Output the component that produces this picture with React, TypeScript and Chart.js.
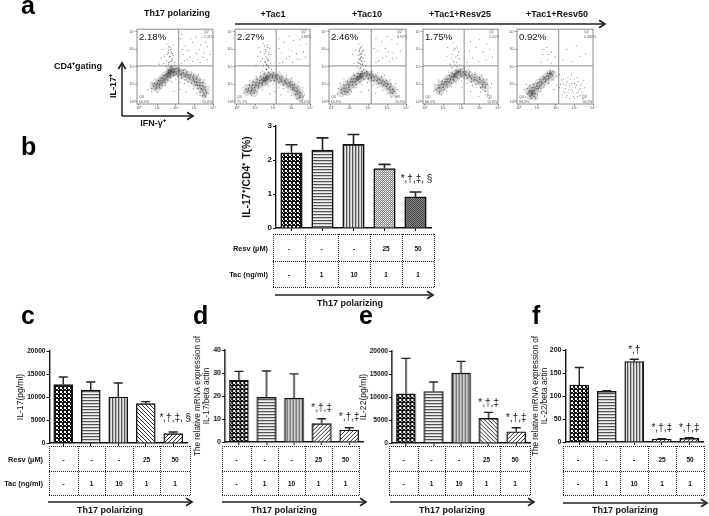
import React, { useEffect, useRef } from "react";
import { Chart, registerables } from "chart.js";
Chart.register(...registerables);

const FONT = '"Liberation Sans", Arial, sans-serif';

// ---------- data: bar panels ----------
const categories = ["Th17", "+Tac1", "+Tac10", "+Tac1+Resv25", "+Tac1+Resv50"];
const resvRow = ["-", "-", "-", "25", "50"];
const tacRow = ["-", "1", "10", "1", "1"];

const bValues = [2.21, 2.29, 2.46, 1.75, 0.92];
const bTops = [2.45, 2.65, 2.75, 1.87, 1.06];
const cValues = [12700, 11500, 10000, 8550, 2050];
const cTops = [14350, 13250, 13050, 9000, 2400];
const dValues = [26.8, 19.4, 19.1, 8, 5.2];
const dTops = [30.7, 30.9, 29.6, 10.1, 6.2];
const eValues = [10700, 11200, 15200, 5350, 2450];
const eTops = [18400, 13250, 17750, 6650, 3300];
const fValues = [124, 110, 175, 5.8, 8];
const fTops = [162, 111.5, 180, 7.2, 9.4];

const bSig = ["", "", "", "", "*,†,‡, §"];
const cSig = ["", "", "", "", "*,†,‡, §"];
const dSig = ["", "", "", "*,†,‡", "*,†,‡"];
const eSig = ["", "", "", "*,†,‡", "*,†,‡"];
const fSig = ["", "", "*,†", "*,†,‡", "*,†,‡"];
const bSigAt = [0, 0, 0, 0, 1.43];
const cSigAt = [0, 0, 0, 0, 5300];
const dSigAt = [0, 0, 0, 14.5, 10.9];
const eSigAt = [0, 0, 0, 8750, 5300];
const fSigAt = [0, 0, 200, 29, 29];

// ---------- data: flow cytometry panels (log10 decades) ----------
const flowTitles = ["2.18%", "2.27%", "2.46%", "1.75%", "0.92%"];
const flowQ2 = ["Q2\n1.11%", "Q2\n1.84%", "Q2\n0.91%", "Q2\n1.31%", "Q2\n0.360%"];
const flowQ3 = ["Q3\n15.0%", "Q3\n15.0%", "Q3\n15.5%", "Q3\n15.6%", "Q3\n14.2%"];
const flowQ4 = ["Q4\n60.9%", "Q4\n71.7%", "Q4\n61.9%", "Q4\n66.1%", "Q4\n84.3%"];

const f1Dense = [[0.8,0.9],[0.95,0.78],[1.0,1.05],[1.1,0.95],[1.15,1.2],[1.25,1.1],[1.3,1.35],[1.4,1.25],[1.45,1.5],[1.55,1.4],[1.6,1.65],[1.7,1.55],[1.75,1.75],[1.85,1.65],[1.7,1.85],[1.9,1.85],[2.0,1.7],[2.15,1.75],[2.25,1.55],[2.4,1.65],[2.5,1.45],[2.65,1.55],[2.75,1.3],[2.9,1.4],[3.0,1.15],[3.1,1.3],[3.15,0.95],[3.3,1.1],[3.35,0.75],[3.45,0.9],[3.5,0.5],[3.6,0.65]];
const f1Core = [[1.6,1.6],[1.7,1.68],[1.78,1.75],[1.55,1.52],[1.65,1.72]];
const f1Band = [[0.7,0.75],[0.85,1.05],[0.9,0.7],[1.05,1.2],[1.1,0.8],[1.2,1.35],[1.25,0.95],[1.35,1.5],[1.4,1.1],[1.5,1.6],[1.55,1.25],[1.6,1.8],[1.7,1.4],[1.8,1.9],[1.85,1.5],[1.95,1.55],[2.0,1.9],[2.1,1.45],[2.2,1.85],[2.3,1.35],[2.4,1.8],[2.5,1.25],[2.6,1.7],[2.65,1.15],[2.8,1.55],[2.85,1.05],[2.95,1.5],[3.05,0.95],[3.15,1.4],[3.2,0.75],[3.3,1.25],[3.3,0.55],[3.45,1.1],[3.45,0.35],[3.55,0.85],[3.65,0.5],[0.75,1.0],[0.95,0.95],[1.15,1.05],[1.3,1.2],[1.45,1.35],[1.65,1.45],[1.9,1.7],[2.05,1.6],[2.3,1.6],[2.55,1.55],[2.7,1.4],[2.95,1.25],[3.1,1.1],[3.25,0.95],[3.4,0.7],[3.55,0.4],[1.72,2.0],[1.62,2.25],[1.78,2.35],[1.68,2.6],[1.58,2.8],[1.72,3.0],[1.62,3.15],[1.8,2.75]];
const f1Speck = [[1.5,3.3],[1.7,3.1],[1.85,3.25],[1.6,2.95],[1.75,2.85],[1.55,2.7],[1.85,2.65],[1.65,2.55],[1.8,2.45],[1.5,2.35],[1.7,2.3],[1.9,2.25],[1.6,2.15],[1.75,2.1],[1.45,2.05],[1.95,2.1],[2.3,2.2],[2.6,2.4],[2.9,2.3],[3.3,2.25],[3.7,2.4],[2.4,2.7],[2.75,2.9],[3.1,2.75],[3.5,2.8],[2.5,3.2],[2.9,3.4],[3.35,3.25],[3.7,3.15],[2.25,3.6],[3.1,3.7],[1.2,2.5],[1.3,3.0],[1.1,2.15],[0.5,0.7],[0.65,1.1],[0.85,1.3],[0.7,0.6],[1.0,0.55],[1.2,0.75],[1.45,0.95],[1.75,1.15],[2.0,1.3],[2.2,1.1],[2.45,1.05],[2.7,0.9],[2.95,0.75],[3.1,0.5],[3.3,0.35],[3.6,0.3],[3.75,0.45],[3.8,0.85],[3.55,1.25],[3.2,1.55],[2.85,1.7],[2.5,1.85],[2.1,1.95],[2.55,0.55],[2.2,0.7],[1.9,0.6],[2.45,2.35],[2.75,2.55],[3.15,2.4],[3.45,2.55],[3.85,2.7],[2.6,2.95],[3.25,3.0],[3.6,3.4],[2.8,3.6],[2.35,3.0],[1.4,2.6],[1.35,2.2],[2.3,3.85],[3.4,3.7]];

const f2Dense = [[0.63,0.77],[0.8,0.62],[0.85,0.95],[0.98,0.8],[1.05,1.1],[1.18,0.92],[1.25,1.22],[1.38,1.05],[1.45,1.38],[1.55,1.18],[1.63,1.5],[1.75,1.3],[1.85,1.55],[1.95,1.4],[2.1,1.5],[2.2,1.3],[2.35,1.38],[2.45,1.15],[2.6,1.2],[2.73,1.02],[2.85,1.1],[2.95,0.85],[3.05,0.95],[3.15,0.65],[3.25,0.78],[3.3,0.45],[3.42,0.55],[3.45,0.25],[0.55,0.55],[0.95,0.5]];
const f2Core = [[1.5,1.26],[1.6,1.34],[1.68,1.42],[1.45,1.18],[1.62,1.25]];
const f2Band = [[0.5,0.7],[0.7,0.95],[0.75,0.5],[0.9,1.15],[1.0,0.65],[1.1,1.3],[1.2,0.8],[1.3,1.45],[1.4,0.95],[1.5,1.6],[1.6,1.05],[1.75,1.65],[1.85,1.2],[2.0,1.65],[2.05,1.2],[2.2,1.55],[2.3,1.1],[2.45,1.45],[2.55,0.95],[2.7,1.3],[2.8,0.85],[2.95,1.15],[3.05,0.7],[3.15,1.0],[3.2,0.4],[3.35,0.85],[3.35,0.2],[3.5,0.5],[0.65,0.65],[0.85,0.7],[1.05,0.95],[1.25,1.05],[1.35,1.3],[1.55,1.4],[1.75,1.45],[1.95,1.5],[2.15,1.42],[2.4,1.25],[2.65,1.1],[2.9,1.0],[3.1,0.8],[3.3,0.6],[1.62,1.85],[1.72,2.05],[1.55,2.3],[1.65,2.5],[1.75,2.7],[1.58,2.9],[1.68,3.1],[1.5,3.2],[1.62,2.15],[1.7,2.35]];
const f2Speck = [[1.45,3.35],[1.65,3.25],[1.8,3.05],[1.55,3.0],[1.75,2.85],[1.5,2.75],[1.85,2.7],[1.6,2.6],[1.4,2.45],[1.75,2.4],[1.55,2.25],[1.85,2.2],[1.65,2.1],[1.45,2.05],[1.75,1.95],[1.6,1.85],[1.9,1.85],[1.4,1.75],[2.35,2.2],[2.7,2.45],[3.05,2.25],[3.45,2.4],[2.45,2.8],[2.85,3.0],[3.25,2.75],[3.65,2.85],[2.6,3.4],[3.1,3.5],[3.5,3.2],[1.15,2.6],[1.2,3.1],[1.05,2.1],[0.4,0.5],[0.5,0.95],[0.7,1.2],[0.35,0.8],[0.8,0.35],[1.1,0.55],[1.4,0.7],[1.7,0.95],[2.0,1.0],[2.3,0.8],[2.55,0.75],[2.8,0.55],[3.0,0.35],[3.25,0.15],[3.6,0.1],[3.7,0.4],[3.6,0.8],[3.35,1.1],[3.0,1.35],[2.7,1.5],[2.35,1.7],[1.3,1.65],[1.05,1.45],[2.05,0.6],[2.4,0.4],[1.8,0.45],[2.5,2.25],[2.9,2.6],[3.3,2.45],[3.75,2.55],[2.3,3.05],[3.0,2.9],[3.45,3.55],[2.85,3.75],[2.3,3.6],[1.3,2.3],[1.3,2.85],[3.8,3.3]];

const f3Dense = [[0.65,0.78],[0.75,0.6],[0.85,1.0],[0.95,0.82],[1.05,1.15],[1.15,0.98],[1.2,1.32],[1.3,1.12],[1.4,1.42],[1.5,1.28],[1.55,1.58],[1.68,1.42],[1.8,1.65],[1.9,1.5],[2.05,1.55],[2.15,1.35],[2.3,1.42],[2.45,1.2],[2.6,1.28],[2.7,1.05],[2.85,1.12],[2.95,0.88],[3.05,0.98],[3.15,0.68],[3.3,0.72],[3.3,0.48],[0.55,0.5],[0.9,0.55]];
const f3Core = [[1.45,1.38],[1.55,1.47],[1.65,1.55],[1.4,1.28],[1.58,1.38]];
const f3Band = [[0.55,0.7],[0.7,0.95],[0.8,0.55],[0.9,1.15],[1.0,0.7],[1.1,1.3],[1.2,0.85],[1.25,1.5],[1.35,1.0],[1.45,1.62],[1.55,1.15],[1.65,1.72],[1.75,1.3],[1.9,1.72],[2.0,1.3],[2.15,1.62],[2.25,1.2],[2.4,1.5],[2.55,1.05],[2.7,1.4],[2.8,0.95],[2.95,1.2],[3.05,0.75],[3.2,1.0],[3.2,0.5],[3.35,0.6],[0.75,0.75],[0.95,0.95],[1.15,1.15],[1.35,1.25],[1.6,1.6],[1.95,1.6],[2.2,1.48],[2.5,1.3],[2.75,1.2],[3.0,1.05],[3.15,0.85],[1.55,1.9],[1.68,2.15],[1.55,2.4],[1.65,2.55],[1.55,2.7],[1.68,2.9],[1.6,3.1],[1.5,2.2],[1.62,2.75],[1.58,2.5],[1.66,2.3],[1.52,2.95]];
const f3Speck = [[1.5,3.3],[1.65,3.2],[1.55,3.05],[1.75,2.95],[1.5,2.85],[1.65,2.8],[1.8,2.7],[1.45,2.65],[1.6,2.6],[1.72,2.5],[1.5,2.45],[1.62,2.35],[1.8,2.3],[1.45,2.25],[1.58,2.15],[1.7,2.1],[1.85,2.05],[1.4,2.0],[1.6,1.95],[1.75,1.85],[2.4,2.25],[2.75,2.5],[3.1,2.3],[3.5,2.5],[2.5,2.9],[2.9,3.05],[3.3,2.8],[3.7,2.9],[2.7,3.45],[3.25,3.55],[1.15,2.7],[1.2,2.2],[0.4,0.75],[0.5,1.05],[0.7,1.3],[0.35,0.45],[1.1,0.6],[1.35,0.8],[1.65,1.0],[1.95,1.1],[2.25,0.95],[2.5,0.8],[2.75,0.65],[3.0,0.45],[3.2,0.25],[3.5,0.3],[3.55,0.7],[3.45,1.05],[3.15,1.25],[2.85,1.5],[2.5,1.65],[2.2,1.75],[1.2,1.6],[2.0,0.65],[2.35,0.5],[1.6,0.55],[2.55,2.35],[2.95,2.6],[3.3,2.45],[2.3,3.05],[3.05,2.85],[3.55,3.3],[2.4,3.6],[3.0,3.75],[1.3,2.95]];

const f4Dense = [[0.72,0.78],[0.82,0.6],[0.9,1.0],[1.0,0.82],[1.1,1.12],[1.2,0.98],[1.25,1.3],[1.35,1.12],[1.45,1.42],[1.55,1.28],[1.6,1.58],[1.72,1.42],[1.85,1.72],[1.95,1.55],[2.1,1.7],[2.25,1.5],[2.4,1.55],[2.55,1.32],[2.7,1.4],[2.85,1.2],[3.0,1.28],[3.15,1.0],[3.25,1.1],[3.3,0.8]];
const f4Core = [[1.65,1.56],[1.74,1.64],[1.82,1.72],[1.6,1.46]];
const f4Band = [[0.6,0.7],[0.75,0.95],[0.8,0.5],[0.95,1.15],[1.05,0.7],[1.15,1.3],[1.25,0.85],[1.35,1.5],[1.45,1.05],[1.5,1.65],[1.6,1.2],[1.7,1.8],[1.8,1.35],[1.95,1.85],[2.0,1.45],[2.2,1.75],[2.3,1.35],[2.45,1.7],[2.55,1.15],[2.75,1.55],[2.8,1.0],[3.0,1.4],[3.05,0.8],[3.2,1.25],[3.3,0.6],[3.4,1.0],[3.45,0.4],[0.8,0.8],[1.0,1.0],[1.2,1.15],[1.4,1.3],[1.55,1.45],[1.95,1.7],[2.2,1.6],[2.45,1.45],[2.7,1.25],[2.95,1.1],[3.15,0.85]];
const f4Speck = [[1.55,3.4],[1.75,3.15],[1.6,2.95],[1.85,2.85],[1.5,2.7],[1.7,2.55],[1.9,2.45],[1.55,2.35],[1.75,2.25],[1.4,2.15],[1.65,2.1],[1.9,2.1],[2.3,2.25],[2.6,2.5],[2.95,2.3],[3.35,2.4],[3.7,2.55],[2.45,2.9],[2.8,3.1],[3.2,2.85],[3.55,3.0],[2.5,3.45],[3.0,3.55],[3.4,3.3],[1.2,2.6],[1.25,3.1],[0.5,0.6],[0.55,1.0],[0.75,1.25],[0.9,0.4],[1.2,0.6],[1.45,0.85],[1.7,1.1],[2.0,1.2],[2.3,1.05],[2.6,0.95],[2.85,0.8],[3.05,0.55],[3.3,0.4],[3.55,0.2],[3.45,0.55],[3.6,0.8],[3.65,1.05],[3.4,1.3],[3.1,1.55],[2.75,1.7],[2.4,1.85],[2.15,1.95],[1.3,1.7],[2.05,0.8],[2.5,0.6],[2.95,0.3],[1.65,3.05],[1.45,2.5],[1.8,2.65],[1.6,2.25],[1.75,2.0],[1.5,1.95]];

const f5Dense = [[0.55,0.6],[0.7,0.45],[0.7,0.8],[0.85,0.65],[0.6,0.32],[0.85,0.3],[0.95,0.9],[1.05,0.75],[1.1,1.1],[1.2,0.95],[1.3,1.28],[1.42,1.15],[1.5,1.45],[1.6,1.32],[1.68,1.62],[1.8,1.5]];
const f5Core = [[0.65,0.6],[0.78,0.52],[0.7,0.42],[1.7,1.62]];
const f5Band = [[0.45,0.75],[0.5,0.45],[0.6,0.9],[0.65,0.2],[0.75,0.65],[0.8,1.0],[0.9,0.45],[0.95,0.75],[1.0,1.05],[1.1,0.85],[1.15,1.25],[1.25,1.05],[1.35,1.4],[1.45,1.25],[1.55,1.6],[1.6,1.45],[1.7,1.75],[1.78,1.6],[1.85,1.75],[1.2,1.15],[1.4,1.35],[0.55,0.55],[0.8,0.8],[0.9,0.2]];
const f5Speck = [[1.5,3.1],[1.75,2.85],[1.3,2.7],[1.95,2.55],[1.55,2.4],[1.2,2.25],[1.75,2.2],[2.4,2.4],[2.9,2.3],[3.3,2.6],[2.6,3.0],[3.1,3.2],[3.6,2.75],[0.3,0.7],[0.4,1.0],[0.35,0.25],[0.45,0.5],[1.0,0.4],[1.15,0.6],[1.35,0.85],[1.6,1.05],[1.85,1.25],[1.95,1.7],[2.05,1.45],[2.2,1.55],[2.3,1.25],[2.4,1.0],[2.5,0.75],[2.6,1.15],[2.65,0.5],[2.75,0.9],[2.8,1.3],[2.9,0.65],[2.95,0.3],[3.0,1.05],[3.05,0.8],[3.1,0.5],[3.2,1.15],[3.25,0.7],[3.3,0.35],[3.35,0.95],[3.4,0.55],[3.45,0.2],[3.5,1.2],[3.55,0.8],[2.2,0.8],[2.35,0.4],[2.55,0.25],[2.85,1.55],[3.15,1.4],[1.9,0.7],[2.05,0.95],[2.25,1.0],[2.45,0.55],[2.55,0.95],[2.7,0.7],[2.85,1.05],[2.95,0.5],[3.1,0.95],[3.2,0.55],[3.35,0.75],[3.45,0.4],[2.6,0.35],[2.75,0.2],[3.0,0.2],[3.15,0.3],[2.4,1.3],[2.65,1.4],[3.0,1.3],[1.6,2.7],[1.35,3.0]];

const flowSets = [
  { dense: f1Dense, core: f1Core, band: f1Band, speck: f1Speck },
  { dense: f2Dense, core: f2Core, band: f2Band, speck: f2Speck },
  { dense: f3Dense, core: f3Core, band: f3Band, speck: f3Speck },
  { dense: f4Dense, core: f4Core, band: f4Band, speck: f4Speck },
  { dense: f5Dense, core: f5Core, band: f5Band, speck: f5Speck },
];
const gateX = 2.15;
const gateY = 2.05;
const logTicks = ["10⁰", "10¹", "10²", "10³", "10⁴"];

// ---------- patterns ----------
function tile(w: number, h: number, draw: (c: CanvasRenderingContext2D) => void) {
  const cv = document.createElement("canvas");
  cv.width = w;
  cv.height = h;
  const c = cv.getContext("2d")!;
  c.fillStyle = "#fff";
  c.fillRect(0, 0, w, h);
  draw(c);
  return c.createPattern(cv, "repeat")!;
}
const patterns: Record<string, () => CanvasPattern> = {
  checker: () => tile(4, 4, (c) => { c.fillStyle = "#111"; c.fillRect(0, 0, 4, 4); c.fillStyle = "#fff"; c.fillRect(0, 0, 2, 2); c.fillRect(2, 2, 1, 1); }),
  horiz: () => tile(2, 3, (c) => { c.fillStyle = "#555"; c.fillRect(0, 0, 2, 1); c.fillStyle = "#ccc"; c.fillRect(0, 1, 2, 1); c.fillStyle = "#f0f0f0"; c.fillRect(0, 2, 2, 1); }),
  vert: () => tile(3, 2, (c) => { c.fillStyle = "#555"; c.fillRect(0, 0, 1, 2); c.fillStyle = "#bbb"; c.fillRect(1, 0, 1, 2); c.fillStyle = "#e8e8e8"; c.fillRect(2, 0, 1, 2); }),
  fine: () => tile(2, 2, (c) => { c.fillStyle = "#888"; c.fillRect(0, 0, 1, 1); c.fillRect(1, 1, 1, 1); c.fillStyle = "#ccc"; c.fillRect(1, 0, 1, 1); }),
  dark: () => tile(2, 2, (c) => { c.fillStyle = "#444"; c.fillRect(0, 0, 2, 2); c.fillStyle = "#888"; c.fillRect(0, 0, 1, 1); c.fillRect(1, 1, 1, 1); }),
  down: () => tile(4, 4, (c) => { c.strokeStyle = "#333"; c.lineWidth = 1; c.beginPath(); c.moveTo(-1, -1); c.lineTo(5, 5); c.moveTo(3, -1); c.lineTo(5, 1); c.moveTo(-1, 3); c.lineTo(1, 5); c.stroke(); }),
  up: () => tile(4, 4, (c) => { c.strokeStyle = "#333"; c.lineWidth = 1; c.beginPath(); c.moveTo(-1, 5); c.lineTo(5, -1); c.moveTo(-1, 1); c.lineTo(1, -1); c.moveTo(3, 5); c.lineTo(5, 3); c.stroke(); }),
};

// ---------- plugins ----------
const errPlugin = {
  id: "errBars",
  afterDatasetsDraw(chart: any, _a: any, o: any) {
    if (!o || !o.tops) return;
    const { ctx, scales } = chart;
    const meta = chart.getDatasetMeta(0);
    ctx.save();
    ctx.strokeStyle = "#222";
    ctx.lineWidth = o.width;
    o.tops.forEach((t: number, i: number) => {
      const x = meta.data[i].x;
      const y0 = meta.data[i].y;
      const y1 = scales.y.getPixelForValue(t);
      ctx.beginPath();
      ctx.moveTo(x, y0);
      ctx.lineTo(x, y1);
      ctx.moveTo(x - o.cap, y1);
      ctx.lineTo(x + o.cap, y1);
      ctx.stroke();
    });
    ctx.fillStyle = "#111";
    ctx.font = `${o.sigSize}px ${FONT}`;
    ctx.textAlign = "center";
    ctx.textBaseline = "middle";
    o.sig.forEach((s: string, i: number) => {
      if (s) ctx.fillText(s, meta.data[i].x + (o.sigDx || 0), scales.y.getPixelForValue(o.sigAt[i]));
    });
    ctx.restore();
  },
};

const flowPlugin = {
  id: "flowText",
  afterDatasetsDraw(chart: any, _a: any, o: any) {
    if (!o || !o.title) return;
    const { ctx, chartArea: a } = chart;
    ctx.save();
    ctx.strokeStyle = "#8a8a8a";
    ctx.lineWidth = 1;
    ctx.strokeRect(a.left, a.top, a.right - a.left, a.bottom - a.top);
    ctx.fillStyle = "#111";
    ctx.font = `9.6px ${FONT}`;
    ctx.textBaseline = "middle";
    ctx.textAlign = "left";
    ctx.fillText(o.title, a.left + 2, a.top + 8);
    ctx.fillStyle = "#555";
    ctx.font = `3.6px ${FONT}`;
    const two = (t: string, x: number, y: number, al: CanvasTextAlign) => {
      ctx.textAlign = al;
      t.split("\n").forEach((l, i) => ctx.fillText(l, x, y + i * 4.6));
    };
    two(o.q2, a.right - 9, a.top + 3, "left");
    two(o.q3, a.right - 11, a.bottom - 7, "left");
    two(o.q4, a.left + 2, a.bottom - 7, "left");
    ctx.restore();
  },
};

// ---------- chart components ----------
function BarPanel(p: any) {
  const ref = useRef<HTMLCanvasElement>(null);
  const padT = 20, padR = 14, padB = 20;
  useEffect(() => {
    const fills = p.fills.map((k: string) => patterns[k]());
    const chart = new Chart(ref.current!, {
      type: "bar",
      data: {
        labels: categories,
        datasets: [{ data: p.values, backgroundColor: fills, borderColor: "#111", borderWidth: p.border, barThickness: p.bar }],
      },
      plugins: [errPlugin],
      options: {
        animation: false,
        responsive: false,
        maintainAspectRatio: false,
        layout: { padding: { top: padT, right: padR, left: 0, bottom: 0 } },
        plugins: {
          legend: { display: false },
          tooltip: { enabled: false },
          errBars: { tops: p.tops, cap: p.cap, width: p.border, sig: p.sig, sigAt: p.sigAt, sigSize: p.sigSize, sigDx: p.sigDx },
        } as any,
        scales: {
          x: {
            afterFit: (s: any) => { s.height = padB; },
            grid: { offset: false, drawOnChartArea: false, drawTicks: true, tickLength: 3, color: "#111", tickWidth: 1 },
            border: { color: "#111", width: 1.4 },
            ticks: { callback: () => "", autoSkip: false, maxRotation: 0, padding: 0, font: { size: 1 } },
          },
          y: {
            min: 0,
            max: p.max,
            afterFit: (s: any) => { s.width = p.axisW; },
            grid: { drawOnChartArea: false, drawTicks: true, tickLength: 3, color: "#111", tickWidth: 1 },
            border: { color: "#111", width: 1.4 },
            ticks: { stepSize: p.step, padding: 1, color: "#111", font: { family: FONT, size: p.tickSize, weight: "bold" }, callback: (v: any) => String(v) },
            title: { display: true, text: p.title, color: "#111", padding: { top: 0, bottom: 0 }, font: { family: FONT, size: p.titleSize, weight: p.titleBold ? "bold" : "normal", lineHeight: 1.1 } },
          },
        },
      } as any,
    });
    return () => chart.destroy();
  }, []);
  return (
    <canvas
      ref={ref}
      width={p.axisW + p.w + padR}
      height={padT + p.h + padB}
      style={{ position: "absolute", left: p.x - p.axisW, top: p.y - padT, width: p.axisW + p.w + padR, height: padT + p.h + padB }}
    />
  );
}

function FlowPanel(p: any) {
  const ref = useRef<HTMLCanvasElement>(null);
  const axisW = 12, padT = 4, padR = 5, padB = 9;
  const W = p.right - p.left, H = 75;
  useEffect(() => {
    const s = flowSets[p.i];
    const pts = (a: number[][]) => a.map(([x, y]) => ({ x, y }));
    const chart = new Chart(ref.current!, {
      type: "scatter",
      data: {
        datasets: [
          { data: pts(s.dense), backgroundColor: "rgba(90,90,90,0.2)", pointRadius: 4.2, borderWidth: 0 },
          { data: pts(s.band), backgroundColor: "rgba(40,40,40,0.75)", pointRadius: 0.65, borderWidth: 0 },
          { data: pts(s.speck), backgroundColor: "rgba(50,50,50,0.65)", pointRadius: 0.55, borderWidth: 0 },
          { data: pts(s.dense), backgroundColor: "rgba(20,20,20,0.65)", pointRadius: 0.8, borderWidth: 0 },
          { data: pts(s.core), backgroundColor: "rgba(30,30,30,0.4)", pointRadius: 1.8, borderWidth: 0 },
          { data: [{ x: gateX, y: -0.13 }, { x: gateX, y: 4.15 }], showLine: true, borderColor: "#8f8f8f", borderWidth: 1, pointRadius: 0 },
          { data: [{ x: -0.1, y: gateY }, { x: 4, y: gateY }], showLine: true, borderColor: "#8f8f8f", borderWidth: 1, pointRadius: 0 },
        ],
      },
      plugins: [flowPlugin],
      options: {
        animation: false,
        responsive: false,
        maintainAspectRatio: false,
        layout: { padding: { top: padT, right: padR, left: 0, bottom: 0 } },
        plugins: {
          legend: { display: false },
          tooltip: { enabled: false },
          flowText: { title: flowTitles[p.i], q2: flowQ2[p.i], q3: flowQ3[p.i], q4: flowQ4[p.i] },
        } as any,
        scales: {
          x: {
            type: "linear",
            min: -0.1,
            max: 4,
            afterFit: (a: any) => { a.height = padB; },
            grid: { drawOnChartArea: false, drawTicks: true, tickLength: 1.5, color: "#777" },
            border: { display: false },
            ticks: { stepSize: 1, includeBounds: false, autoSkip: false, maxRotation: 0, padding: 0.5, color: "#555", font: { family: FONT, size: 3.8 }, callback: (v: any) => logTicks[v] ?? "" },
          },
          y: {
            type: "linear",
            min: -0.13,
            max: 4.15,
            afterFit: (a: any) => { a.width = axisW; },
            grid: { drawOnChartArea: false, drawTicks: true, tickLength: 1.5, color: "#777" },
            border: { display: false },
            ticks: { stepSize: 1, includeBounds: false, autoSkip: false, padding: 0.5, color: "#555", font: { family: FONT, size: 3.8 }, callback: (v: any) => logTicks[v] ?? "" },
          },
        },
      } as any,
    });
    return () => chart.destroy();
  }, []);
  return (
    <canvas
      ref={ref}
      width={axisW + W + padR}
      height={padT + H + padB}
      style={{ position: "absolute", left: p.left - axisW, top: 29 - padT, width: axisW + W + padR, height: padT + H + padB }}
    />
  );
}

// ---------- static text and lines ----------
function T({ x, y, children, size = 9, bold = true, align = "center", rot = 0 }: any) {
  const tx = align === "center" ? "-50%" : align === "right" ? "-100%" : "0";
  return (
    <div style={{ position: "absolute", left: x, top: y, transform: `translate(${tx},-50%) rotate(${rot}deg)`, fontFamily: FONT, fontSize: size, fontWeight: bold ? 700 : 400, color: "#111", whiteSpace: "nowrap", lineHeight: 1 }}>
      {children}
    </div>
  );
}
const Letter = ({ x, base, ch }: any) => (
  <div style={{ position: "absolute", left: x, top: base - 21, fontFamily: FONT, fontSize: 25, fontWeight: 700, color: "#000", lineHeight: "25px" }}>{ch}</div>
);

function Arrow({ x1, y1, x2, y2, w = 1.5 }: any) {
  const a = Math.atan2(y2 - y1, x2 - x1), L = 7;
  const pt = (d: number) => `${x2 - L * Math.cos(a + d)},${y2 - L * Math.sin(a + d)}`;
  return (
    <g stroke="#222" fill="none" strokeWidth={w}>
      <line x1={x1} y1={y1} x2={x2} y2={y2} />
      <polyline points={`${pt(0.55)} ${x2},${y2} ${pt(-0.55)}`} strokeWidth={1.7} />
    </g>
  );
}

function TableLines({ x0, x1, cols, y0, ym, y1 }: any) {
  const d = { stroke: "#222", strokeWidth: 1, strokeDasharray: "1 1" };
  return (
    <g>
      {[y0, ym, y1].map((y: number) => <line key={y} x1={x0} x2={x1} y1={y + 0.5} y2={y + 0.5} {...d} />)}
      {[x0, ...cols, x1].map((x: number) => <line key={x} x1={x + 0.5} x2={x + 0.5} y1={y0} y2={y1} {...d} />)}
    </g>
  );
}
function TableText({ x0, x1, cols, y0, ym, y1, lx, cell }: any) {
  const edges = [x0, ...cols, x1];
  return (
    <>
      {lx > 0 && <T x={lx} y={(y0 + ym) / 2 + 1} align="right" size={7.4}>Resv (µM)</T>}
      {lx > 0 && <T x={lx} y={(ym + y1) / 2 + 1} align="right" size={7.4}>Tac (ng/ml)</T>}
      {resvRow.map((v, i) => <T key={"r" + i} x={(edges[i] + edges[i + 1]) / 2} y={(y0 + ym) / 2 + 1} size={cell}>{v}</T>)}
      {tacRow.map((v, i) => <T key={"t" + i} x={(edges[i] + edges[i + 1]) / 2} y={(ym + y1) / 2 + 1} size={cell}>{v}</T>)}
    </>
  );
}

const tableB = { x0: 273, x1: 434, cols: [305, 338, 370, 402], y0: 234, ym: 261, y1: 287, lx: 268, cell: 6.5 };
const tableC = { x0: 49, x1: 190, cols: [78, 105, 133, 160], y0: 446, ym: 471, y1: 495, lx: 43, cell: 6.5 };
const tableD = { x0: 222, x1: 359, cols: [251, 278, 305, 332], y0: 446, ym: 471, y1: 495, lx: 0, cell: 6.5 };
const tableE = { x0: 389, x1: 530, cols: [418, 445, 473, 500], y0: 446, ym: 471, y1: 495, lx: 0, cell: 6.5 };
const tableF = { x0: 563, x1: 704, cols: [593, 620, 648, 676], y0: 446, ym: 471, y1: 495, lx: 0, cell: 6.5 };

const flowBoxes = [[137, 213], [235, 310], [329, 406], [423, 498], [517, 593]];

export default function App() {
  return (
    <div style={{ position: "absolute", left: 0, top: 0, width: 709, height: 516, overflow: "hidden", background: "#fff", filter: "blur(0.4px)" }}>
      {flowBoxes.map(([l, r], i) => <FlowPanel key={i} i={i} left={l} right={r} />)}

      <BarPanel x={276} y={126} w={155} h={102} axisW={35} max={3} step={1} values={bValues} tops={bTops} sig={bSig} sigAt={bSigAt} sigSize={10} sigDx={1}
        fills={["checker", "horiz", "vert", "fine", "dark"]} bar={21.5} border={1.6} cap={6} tickSize={8} title="IL-17⁺/CD4⁺ T(%)" titleSize={10.4} titleBold />
      <BarPanel x={49.5} y={351} w={137.5} h={92} axisW={33.5} max={20000} step={5000} values={cValues} tops={cTops} sig={cSig} sigAt={cSigAt} sigSize={10} sigDx={2}
        fills={["checker", "horiz", "vert", "down", "up"]} bar={19} border={1.4} cap={4.5} tickSize={6.6} title="IL-17(pg/ml)" titleSize={8.6} />
      <BarPanel x={225} y={350} w={137.5} h={92} axisW={32} max={40} step={10} values={dValues} tops={dTops} sig={dSig} sigAt={dSigAt} sigSize={10}
        fills={["checker", "horiz", "vert", "up", "up"]} bar={19} border={1.4} cap={4.5} tickSize={7} title={["The relative mRNA expression of", "IL-17/beta actin"]} titleSize={8.2} />
      <BarPanel x={392} y={351} w={137.5} h={92} axisW={33} max={20000} step={5000} values={eValues} tops={eTops} sig={eSig} sigAt={eSigAt} sigSize={10}
        fills={["checker", "horiz", "vert", "down", "up"]} bar={19} border={1.4} cap={4.5} tickSize={6.6} title="IL-22(pg/ml)" titleSize={8.6} />
      <BarPanel x={565} y={350} w={137.5} h={92} axisW={34.5} max={200} step={50} values={fValues} tops={fTops} sig={fSig} sigAt={fSigAt} sigSize={10}
        fills={["checker", "horiz", "vert", "up", "up"]} bar={19} border={1.4} cap={4.5} tickSize={7} title={["The relative mRNA expression of", "IL-22/beta actin"]} titleSize={8.2} />

      <svg width={709} height={516} style={{ position: "absolute", left: 0, top: 0 }}>
        <Arrow x1={235} y1={24} x2={605} y2={24} w={1.6} />
        <Arrow x1={122} y1={116} x2={122} y2={63} />
        <Arrow x1={122} y1={116} x2={193} y2={116} />
        <Arrow x1={275} y1={295} x2={433} y2={295} />
        <Arrow x1={48} y1={502} x2={192} y2={502} />
        <Arrow x1={222} y1={502} x2={366} y2={502} />
        <Arrow x1={390} y1={502} x2={534} y2={502} />
        <Arrow x1={563} y1={503} x2={707} y2={503} />
        <TableLines {...tableB} />
        <TableLines {...tableC} />
        <TableLines {...tableD} />
        <TableLines {...tableE} />
        <TableLines {...tableF} />
      </svg>

      <TableText {...tableB} />
      <TableText {...tableC} />
      <TableText {...tableD} />
      <TableText {...tableE} />
      <TableText {...tableF} />

      <Letter x={21} base={14} ch="a" />
      <Letter x={21} base={155} ch="b" />
      <Letter x={21} base={324} ch="c" />
      <Letter x={193} base={324} ch="d" />
      <Letter x={359} base={324} ch="e" />
      <Letter x={532} base={324} ch="f" />

      <T x={177} y={13}>Th17 polarizing</T>
      <T x={273} y={14}>+Tac1</T>
      <T x={367} y={14}>+Tac10</T>
      <T x={460} y={14}>+Tac1+Resv25</T>
      <T x={557} y={14}>+Tac1+Resv50</T>
      <T x={78} y={66}>CD4⁺gating</T>
      <T x={113} y={86} rot={-90}>IL-17⁺</T>
      <T x={153} y={123}>IFN-γ⁺</T>
      <T x={350} y={303}>Th17 polarizing</T>
      <T x={110} y={510}>Th17 polarizing</T>
      <T x={284} y={510}>Th17 polarizing</T>
      <T x={452} y={510}>Th17 polarizing</T>
      <T x={625} y={510}>Th17 polarizing</T>
    </div>
  );
}
